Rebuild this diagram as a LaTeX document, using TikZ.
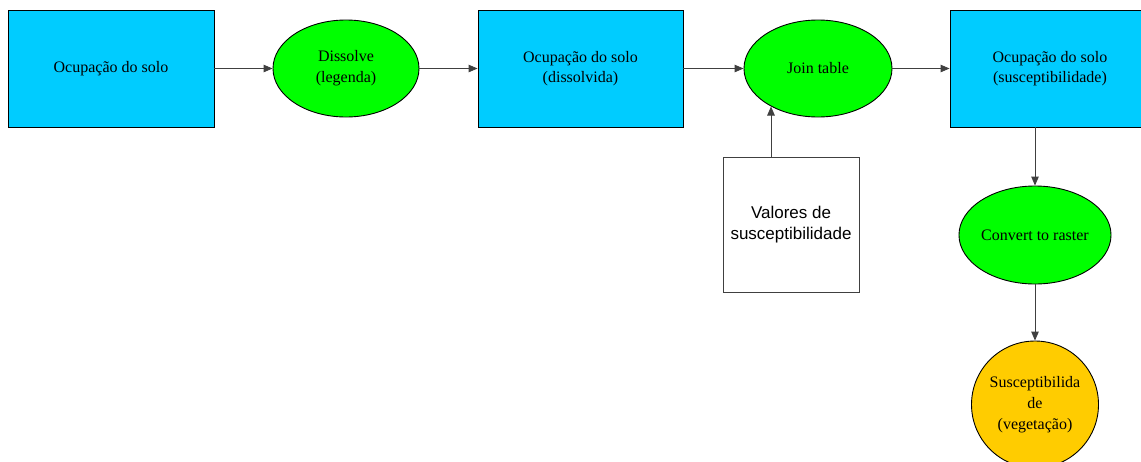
\documentclass[tikz,border=0pt]{standalone}
\usepackage{fontspec}
\setmainfont{Liberation Serif}
\newfontfamily\arialfont{Liberation Sans}
\usetikzlibrary{shapes.geometric,arrows.meta}
\definecolor{boxblue}{HTML}{00CCFF}
\definecolor{procgreen}{HTML}{00FF00}
\definecolor{outorange}{HTML}{FFCC00}
\tikzset{
  databox/.style={draw=black, line width=0.9pt, fill=boxblue, rectangle, inner sep=0pt, align=center, font=\fontsize{16}{20.7}\selectfont},
  procell/.style={draw=black, line width=0.9pt, fill=procgreen, ellipse, inner sep=0pt, align=center, font=\fontsize{16}{20.7}\selectfont},
  outcirc/.style={draw=black, line width=0.9pt, fill=outorange, circle, inner sep=0pt, align=center, font=\fontsize{16}{21}\selectfont},
  tablebox/.style={draw=black!75, line width=0.9pt, fill=white, rectangle, inner sep=0pt, align=center, font=\arialfont\fontsize{17}{21}\selectfont},
  conn/.style={draw=black!75, line width=0.9pt, -{Triangle[length=9pt,width=7.5pt]}},
}
\begin{document}
\begin{tikzpicture}[x=1pt,y=-1pt]
\fill[white] (0,0) rectangle (1141,461);
\useasboundingbox (0,0) rectangle (1141,461);
\clip (0,0) rectangle (1141,461);
\node[databox, minimum width=206pt, minimum height=117pt] (b1) at (111,68.5) {Ocupação do solo};
\node[procell, minimum width=146pt, minimum height=97pt] (e1) at (346,68.5) {Dissolve\\(legenda)};
\node[databox, minimum width=205pt, minimum height=117pt] (b2) at (580.5,68.5) {Ocupação do solo\\(dissolvida)};
\node[procell, minimum width=148pt, minimum height=97pt] (e2) at (818,68.5) {Join table};
\node[databox, minimum width=200pt, minimum height=117pt] (b3) at (1050,68.5) {Ocupação do solo\\(susceptibilidade)};
\node[procell, minimum width=147pt, minimum height=98pt] (e3) at (1035,235) {Convert to raster};
\node[outcirc, minimum size=127pt] (res) at (1035,404.5) {Susceptibilida\\de\\(vegetação)};
\node[tablebox, minimum width=136pt, minimum height=135pt] (val) at (791,224.5) {Valores de\\susceptibilidade};
\draw[conn] (b1.east) -- (e1.west);
\draw[conn] (e1.east) -- (b2.west);
\draw[conn] (b2.east) -- (e2.west);
\draw[conn] (e2.east) -- (b3.west);
\draw[conn] ([xshift=-20pt]val.north) -- ([xshift=-20pt]val.north |- e2.219);
\draw[conn] (e3.north |- b3.south) -- (e3.north);
\draw[conn] (e3.south) -- (res.north);
\end{tikzpicture}
\end{document}
